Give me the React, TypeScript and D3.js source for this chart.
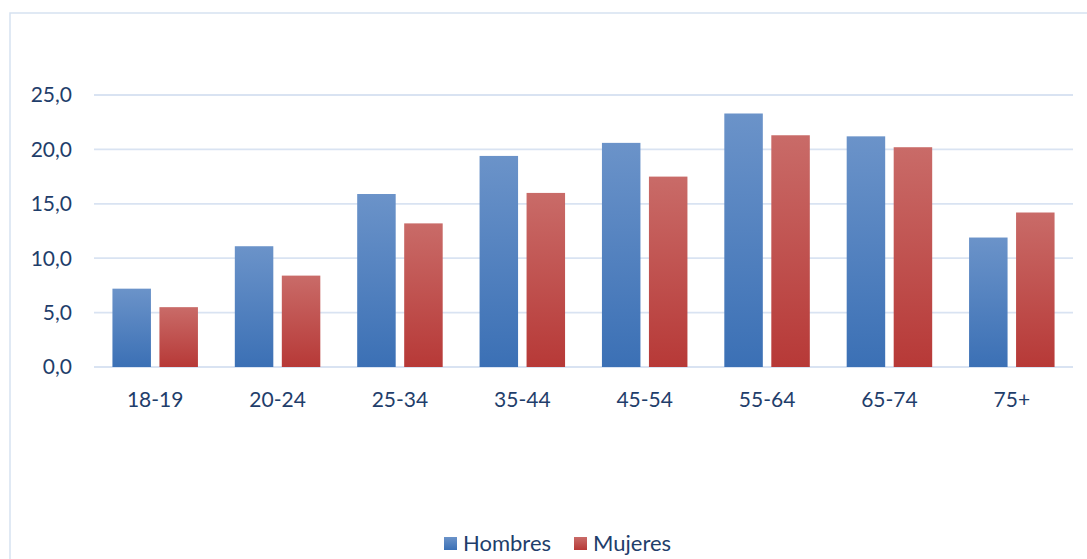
import { useEffect, useRef } from "react";
import * as d3 from "d3";

const categories = ["18-19", "20-24", "25-34", "35-44", "45-54", "55-64", "65-74", "75+"];
const hombres = [7.2, 11.1, 15.9, 19.4, 20.6, 23.3, 21.2, 11.9];
const mujeres = [5.5, 8.4, 13.2, 16.0, 17.5, 21.3, 20.2, 14.2];
const yTicks = [0, 5, 10, 15, 20, 25];
const seriesNames = ["Hombres", "Mujeres"];

function App() {
  const svgRef = useRef(null);

  const width = 1087;
  const height = 559;

  useEffect(() => {
    const svg = d3.select(svgRef.current);
    svg.selectAll("*").remove();

    const textColor = "#1f3e6b";
    const font = "Lato, 'Open Sans', sans-serif";

    const defs = svg.append("defs");
    const grads = [
      { id: "gBlue", top: "#6b93c9", bottom: "#3b70b5" },
      { id: "gRed", top: "#c96b68", bottom: "#b73937" },
    ];
    grads.forEach((g) => {
      const lg = defs.append("linearGradient").attr("id", g.id)
        .attr("x1", 0).attr("y1", 0).attr("x2", 0).attr("y2", 1);
      lg.append("stop").attr("offset", "0%").attr("stop-color", g.top);
      lg.append("stop").attr("offset", "100%").attr("stop-color", g.bottom);
    });

    // outer border
    svg.append("rect")
      .attr("x", 10).attr("y", 13).attr("width", 1090).attr("height", 560)
      .attr("fill", "none").attr("stroke", "#d6e2f1").attr("stroke-width", 1.5);

    const x = d3.scaleBand().domain(categories).range([94, 1073]);
    const y = d3.scaleLinear().domain([0, 25]).range([367, 95]);

    // grid
    svg.append("g")
      .selectAll("line")
      .data(yTicks)
      .join("line")
      .attr("x1", 94).attr("x2", 1073)
      .attr("y1", (d) => y(d)).attr("y2", (d) => y(d))
      .attr("stroke", "#d9e3f2").attr("stroke-width", 1.8);

    svg.append("g")
      .selectAll("text")
      .data(yTicks)
      .join("text")
      .attr("x", 72)
      .attr("y", (d) => y(d))
      .attr("dy", "0.35em")
      .attr("text-anchor", "end")
      .attr("font-family", font)
      .attr("font-size", "21px")
      .attr("fill", textColor)
      .text((d) => d.toFixed(1).replace(".", ","));

    const barW = 38.5;
    const gap = 8.5;
    const series = [
      { values: hombres, fill: "url(#gBlue)", off: -gap / 2 - barW },
      { values: mujeres, fill: "url(#gRed)", off: gap / 2 },
    ];
    series.forEach((s) => {
      svg.append("g")
        .selectAll("rect")
        .data(categories)
        .join("rect")
        .attr("x", (d) => x(d) + x.bandwidth() / 2 + s.off)
        .attr("width", barW)
        .attr("y", (d, i) => y(s.values[i]))
        .attr("height", (d, i) => y(0) - y(s.values[i]))
        .attr("fill", s.fill);
    });

    svg.append("g")
      .selectAll("text")
      .data(categories)
      .join("text")
      .attr("x", (d) => x(d) + x.bandwidth() / 2)
      .attr("y", 407)
      .attr("text-anchor", "middle")
      .attr("font-family", font)
      .attr("font-size", "21px")
      .attr("fill", textColor)
      .text((d) => d);

    // legend
    const legendX = [444, 574];
    const legend = svg.append("g")
      .selectAll("g")
      .data(seriesNames)
      .join("g")
      .attr("transform", (d, i) => `translate(${legendX[i]},0)`);
    legend.append("rect")
      .attr("x", 0).attr("y", 537).attr("width", 13).attr("height", 13)
      .attr("fill", (d, i) => (i === 0 ? "url(#gBlue)" : "url(#gRed)"));
    legend.append("text")
      .attr("x", 19).attr("y", 551)
      .attr("font-family", font)
      .attr("font-size", "22px")
      .attr("fill", textColor)
      .text((d) => d);
  }, []);

  return (
    <div style={{ position: "absolute", left: 0, top: 0 }}>
      <svg width={width} height={height} ref={svgRef} style={{ display: "block" }}></svg>
    </div>
  );
}

export default App;
